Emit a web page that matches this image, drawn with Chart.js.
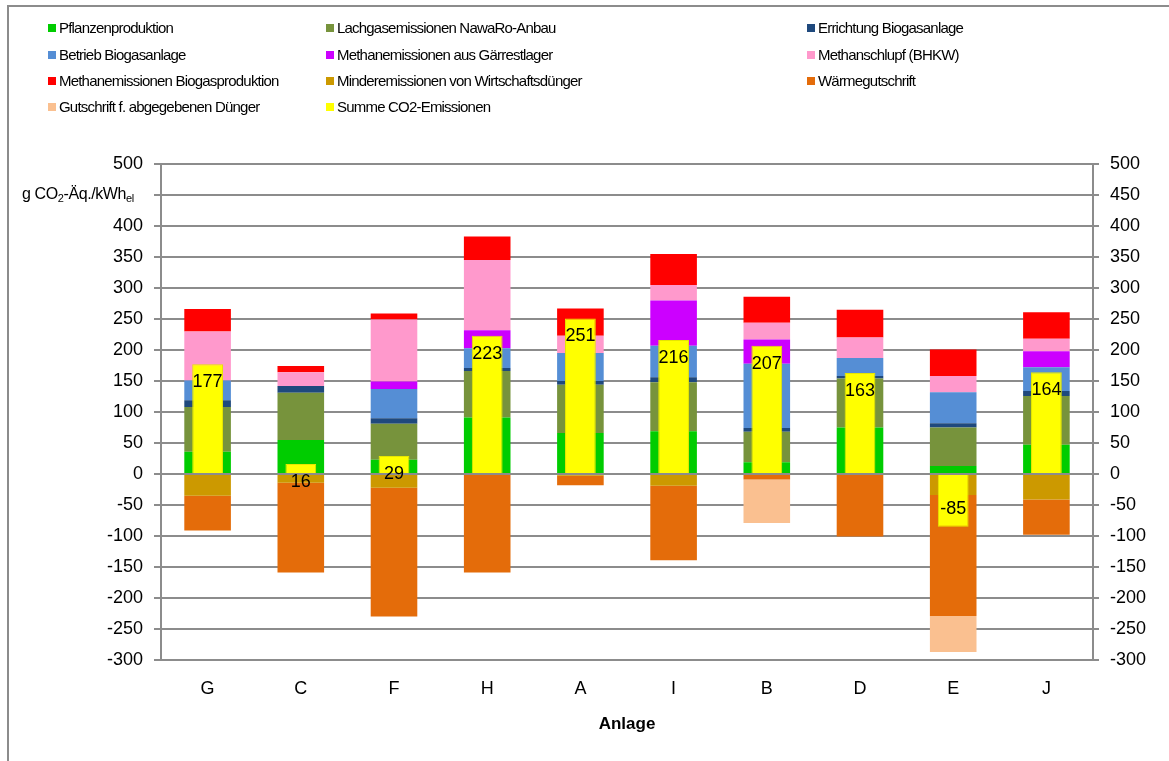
<!DOCTYPE html>
<html>
<head>
<meta charset="utf-8">
<script src="https://cdn.jsdelivr.net/npm/chart.js@4/dist/chart.umd.min.js"></script>
<style>
  body { margin: 0; background: #fff; font-family: "Liberation Sans", Arial, sans-serif; }
  #wrap { position: relative; width: 1169px; height: 761px; overflow: hidden; }
  #frame { position: absolute; left: 7px; top: 5px; width: 1300px; height: 900px;
           border-left: 2px solid #8c8c8c; border-top: 2px solid #8c8c8c; }
  #chart { position: absolute; left: 0; top: 0; }
  .leg { position: absolute; font-size: 15px; letter-spacing: -0.8px; color: #000;
         white-space: nowrap; line-height: 17px; }
  .leg span.box { display: inline-block; width: 8px; height: 8px; margin-right: 3px; vertical-align: 1px; }
  #unit { position: absolute; left: 22px; top: 185px; font-size: 16px; letter-spacing: -0.4px; white-space: nowrap; }
  #unit sub { font-size: 11px; vertical-align: -3px; }
</style>
</head>
<body>
<div id="wrap">
  <div id="frame"></div>
  <canvas id="chart" width="1169" height="761"></canvas>
  <div id="legend"></div>
  <div id="unit">g CO<sub>2</sub>-Äq./kWh<sub>el</sub></div>
</div>
<script>
const categories = ["G", "C", "F", "H", "A", "I", "B", "D", "E", "J"];

const pflanzen     = [36, 55, 23, 91, 66, 69, 19, 75, 13, 47];
const lachgas      = [72, 76, 58, 75, 78, 79, 49, 79, 62, 79];
const errichtung   = [11, 11, 9, 5, 6, 8, 6, 4, 7, 8];
const betrieb      = [32, 0, 47, 32, 45, 51, 104, 29, 50, 38];
const gaerrest     = [0, 0, 12, 29, 0, 73, 39, 0, 0, 26];
const schlupf      = [79, 22, 100, 113, 28, 25, 27, 33, 26, 20];
const methanBiogas = [36, 10, 10, 38, 44, 50, 42, 45, 43, 43];
const minder       = [-35, -14, -22, 0, -3, -19, 0, 0, -34, -41];
const waerme       = [-56, -145, -208, -159, -15, -120, -9, -101, -195, -57];
const duenger      = [0, 0, 0, 0, 0, 0, -70, 0, -58, 0];
const summe        = [177, 16, 29, 223, 251, 216, 207, 163, -85, 164];

const yTicks = [-300, -250, -200, -150, -100, -50, 0, 50, 100, 150, 200, 250, 300, 350, 400, 450, 500];

const series = [
  { label: "Pflanzenproduktion", data: pflanzen, color: "#00cc00" },
  { label: "Lachgasemissionen NawaRo-Anbau", data: lachgas, color: "#77933c" },
  { label: "Errichtung Biogasanlage", data: errichtung, color: "#1f497d" },
  { label: "Betrieb Biogasanlage", data: betrieb, color: "#558ed5" },
  { label: "Methanemissionen aus Gärrestlager", data: gaerrest, color: "#cc00ff" },
  { label: "Methanschlupf (BHKW)", data: schlupf, color: "#ff99cc" },
  { label: "Methanemissionen Biogasproduktion", data: methanBiogas, color: "#ff0000" },
  { label: "Minderemissionen von Wirtschaftsdünger", data: minder, color: "#cc9900" },
  { label: "Wärmegutschrift", data: waerme, color: "#e46c0a" },
  { label: "Gutschrift f. abgegebenen Dünger", data: duenger, color: "#fac090" },
];
const sumColor = "#ffff00";

const gridColor = "#8c8c8c";
const fontFamily = '"Liberation Sans", Arial, sans-serif';

// legend as html, 3 columns
const legendItems = series.map(s => ({ label: s.label, color: s.color }));
legendItems.push({ label: "Summe CO2-Emissionen", color: sumColor });
const colX = [48, 326, 807];
const rowY = [19, 46, 72, 98];
const legendDiv = document.getElementById("legend");
legendItems.forEach((item, i) => {
  const d = document.createElement("div");
  d.className = "leg";
  d.style.left = colX[i % 3] + "px";
  d.style.top = rowY[Math.floor(i / 3)] + "px";
  d.innerHTML = '<span class="box" style="background:' + item.color + '"></span>' + item.label;
  legendDiv.appendChild(d);
});

const datasets = series.map(s => ({
  label: s.label,
  data: s.data,
  backgroundColor: s.color,
  borderWidth: 0,
  barPercentage: 0.5,
  categoryPercentage: 1,
  grouped: false,
  stack: "parts",
  order: 1,
}));
datasets.push({
  label: "Summe CO2-Emissionen",
  data: summe,
  backgroundColor: sumColor,
  borderColor: "#e6e600",
  borderWidth: 1,
  barPercentage: 0.33,
  categoryPercentage: 1,
  grouped: false,
  stack: "sum",
  order: 0,
});

// value labels inside the yellow bars
const sumLabels = {
  id: "sumLabels",
  afterDatasetsDraw(chart) {
    const idx = chart.data.datasets.length - 1;
    const meta = chart.getDatasetMeta(idx);
    const ctx = chart.ctx;
    ctx.save();
    ctx.font = "18px " + fontFamily;
    ctx.fillStyle = "#000";
    ctx.textAlign = "center";
    ctx.textBaseline = "middle";
    meta.data.forEach((bar, i) => {
      const v = summe[i];
      const y = v >= 0 ? bar.y + 18 : bar.y - 18;
      ctx.fillText(String(v), bar.x, y);
    });
    ctx.restore();
  },
};

new Chart(document.getElementById("chart"), {
  type: "bar",
  data: { labels: categories, datasets: datasets },
  options: {
    responsive: false,
    animation: false,
    layout: { padding: { top: 164, left: 0, right: 0, bottom: 22 } },
    plugins: { legend: { display: false }, tooltip: { enabled: false } },
    scales: {
      x: {
        stacked: true,
        grid: { display: false, drawTicks: false },
        border: { display: false },
        ticks: { color: "#000", font: { size: 18, family: fontFamily }, padding: 18 },
        title: { display: true, text: "Anlage", color: "#000", font: { size: 17, weight: "bold", family: fontFamily } },
        afterFit: s => { s.height = 79; },
      },
      y: {
        stacked: true,
        min: yTicks[0],
        max: yTicks[yTicks.length - 1],
        afterBuildTicks: s => { s.ticks = yTicks.map(v => ({ value: v })); },
        ticks: {
          color: "#000",
          font: { size: 18, family: fontFamily },
          padding: 11,
          callback: v => (v === 450 ? "" : v),
        },
        grid: { color: gridColor, lineWidth: 2, tickLength: 7 },
        border: { color: gridColor, width: 2 },
        afterFit: s => { s.width = 161; },
      },
      y2: {
        position: "right",
        min: yTicks[0],
        max: yTicks[yTicks.length - 1],
        afterBuildTicks: s => { s.ticks = yTicks.map(v => ({ value: v })); },
        ticks: { color: "#000", font: { size: 18, family: fontFamily }, padding: 11 },
        grid: { drawOnChartArea: false, color: gridColor, lineWidth: 2, tickLength: 6 },
        border: { color: gridColor, width: 2 },
        afterFit: s => { s.width = 76; },
      },
    },
  },
  plugins: [sumLabels],
});
</script>
</body>
</html>
